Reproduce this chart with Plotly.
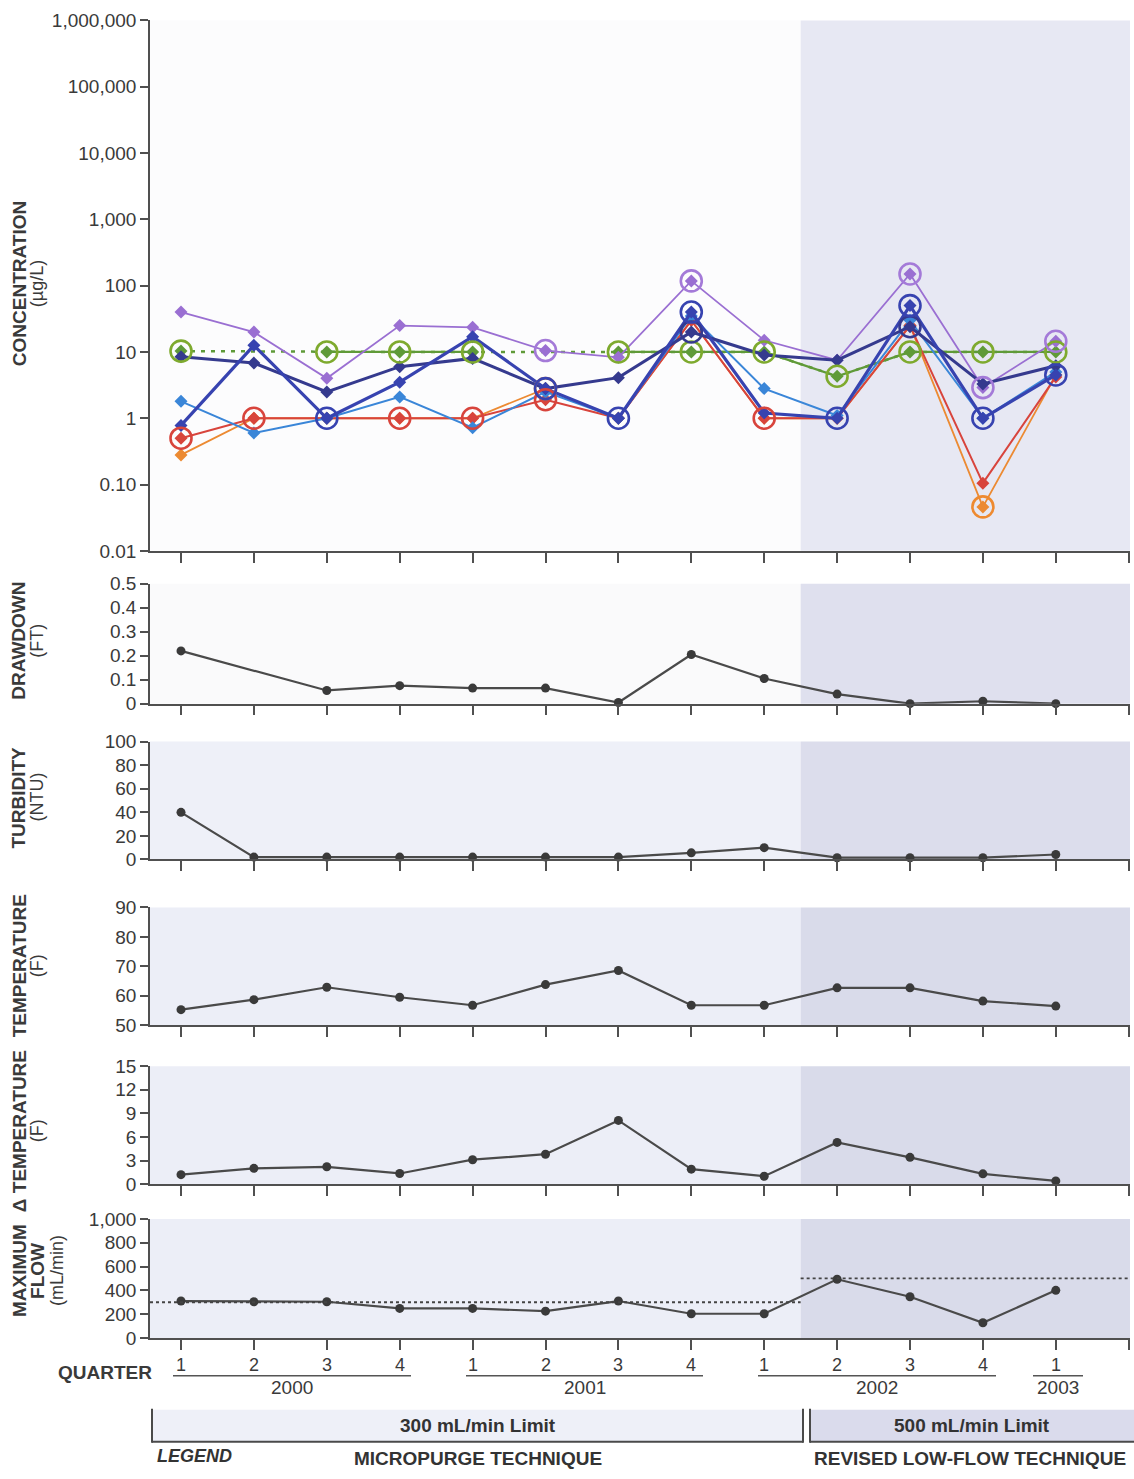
import plotly.graph_objects as go

W, H = 1134, 1479
# measured vertical mapping of the rendered page: shown_y ~= 0.987 * fig_y + 9.5
Y_SCALE, Y_SHIFT = 0.987, 9.5


def px(x):
    return min(max(x / W, 0.0), 1.0)


def py(y):
    fy = (y - Y_SHIFT) / Y_SCALE
    return min(max(1 - fy / H, 0.0), 1.0)


# ---------------- data ----------------
quarters = list(range(1, 14))
quarter_labels = ["1", "2", "3", "4", "1", "2", "3", "4", "1", "2", "3", "4", "1"]
years = ["2000", "2001", "2002", "2003"]

# concentration (ug/L), one list per constituent
conc_purple = [40, 20, 4.0, 25, 23.5, 10.5, 8.3, 118, 15, 7.5, 150, 2.9, 14.5]
conc_green = [10.3, None, 10, 10, 10, None, 10, 10, 10, 4.3, 10, 10, 10]
conc_red = [0.5, 1, 1, 1, 1, 1.9, 1, 30, 1, 1, 25, 0.105, 4.2]
conc_orange = [0.28, 1, 1, 1, 1, 2.8, 1, 30, 1, 1, 25, 0.046, 4.5]
conc_ltblue = [1.8, 0.6, 1, 2.1, 0.72, 2.5, 1, 35, 2.8, 1.1, 30, 1, 5]
conc_blue = [0.78, 12.6, 1, 3.5, 17, 2.8, 1, 40, 1.2, 1, 50, 1, 4.5]
conc_navy = [8.5, 6.8, 2.5, 6.0, 8.0, 2.8, 4.1, 20, 9, 7.5, 24, 3.3, 6.2]

# quarters whose result is circled (non-detect / reporting limit)
circ_purple = [6, 8, 11, 12, 13]
circ_green = [1, 3, 4, 5, 7, 8, 9, 10, 11, 12, 13]
circ_red = [1, 2, 4, 5, 6, 9]
circ_orange = [6, 12]
circ_blue = [3, 6, 7, 8, 10, 11, 12, 13]
circ_navy = [8, 11]

drawdown = [0.22, None, 0.055, 0.075, 0.065, 0.065, 0.005, 0.205, 0.105, 0.04, 0.0, 0.01, 0.0]
turbidity = [40, 2, 2, 2, 2, 2, 2, 5.6, 10, 1.5, 1.5, 1.5, 4.2]
temperature = [55.3, 58.7, 62.9, 59.5, 56.8, 63.8, 68.6, 56.8, 56.8, 62.7, 62.7, 58.2, 56.5]
delta_temp = [1.2, 2.0, 2.2, 1.35, 3.1, 3.8, 8.1, 1.9, 1.0, 5.3, 3.4, 1.3, 0.4]
max_flow = [310, 304, 304, 248, 248, 225, 310, 203, 203, 493, 346, 127, 400]
flow_limits = [300, 500]

conc_ticks = [0.01, 0.1, 1, 10, 100, 1000, 10000, 100000, 1000000]
conc_ticktext = ["0.01", "0.10", "1", "10", "100", "1,000", "10,000", "100,000", "1,000,000"]

# ---------------- layout constants ----------------
SPLIT = 9.5
FONT = "Liberation Sans, Arial, sans-serif"
AX = "#505050"
X_LEFT, X_Q1, X_STEP, X_RIGHT = 150, 181, 72.9, 1130
XR = [1 + (X_LEFT - X_Q1) / X_STEP, 1 + (X_RIGHT - X_Q1) / X_STEP]

fig = go.Figure()

series = [
    (conc_green, "#5f9a38", 2.2, circ_green, "#7eaa2e"),
    (conc_purple, "#9a6fd2", 1.8, circ_purple, "#a47ad8"),
    (conc_orange, "#ec8a32", 1.8, circ_orange, "#ee8a30"),
    (conc_red, "#d8443c", 2.0, circ_red, "#d8443c"),
    (conc_ltblue, "#3a86d8", 2.0, [], "#3a86d8"),
    (conc_navy, "#353a8e", 3.0, circ_navy, "#353a8e"),
    (conc_blue, "#3743b0", 3.2, circ_blue, "#3743b0"),
]

fig.add_trace(go.Scatter(x=quarters, y=conc_green, mode="lines", connectgaps=True,
                         line=dict(color="#5f9a38", width=2.5, dash="4px,6px"),
                         xaxis="x", yaxis="y", hoverinfo="skip", showlegend=False))

for vals, col, lw, _, _ in series:
    fig.add_trace(go.Scatter(x=quarters, y=vals, mode="lines+markers", connectgaps=False,
                             line=dict(color=col, width=lw),
                             marker=dict(symbol="diamond", size=10, color=col),
                             xaxis="x", yaxis="y", showlegend=False, cliponaxis=False))

for vals, col, lw, circ, ccol in series:
    if circ:
        fig.add_trace(go.Scatter(x=circ, y=[vals[q - 1] for q in circ], mode="markers",
                                 marker=dict(symbol="circle-open", size=21, color=ccol,
                                             line=dict(color=ccol, width=2.6)),
                                 xaxis="x", yaxis="y", showlegend=False, cliponaxis=False))

lower = [
    (drawdown, "x2", "y2"),
    (turbidity, "x3", "y3"),
    (temperature, "x4", "y4"),
    (delta_temp, "x5", "y5"),
    (max_flow, "x6", "y6"),
]
for vals, xa, ya in lower:
    fig.add_trace(go.Scatter(x=quarters, y=vals, mode="lines+markers", connectgaps=True,
                             line=dict(color="#4a4a4a", width=2.2),
                             marker=dict(symbol="circle", size=9, color="#3a3a3a"),
                             xaxis=xa, yaxis=ya, showlegend=False, cliponaxis=False))

# ---------------- axes ----------------
domains = [
    [py(551), py(20)],
    [py(704), py(584)],
    [py(860), py(742)],
    [py(1026), py(908)],
    [py(1185), py(1067)],
    [py(1339), py(1220)],
]
yconf = [
    dict(type="log", range=[-2, 6], tickvals=conc_ticks, ticktext=conc_ticktext),
    dict(range=[0, 0.5], tickvals=[0, 0.1, 0.2, 0.3, 0.4, 0.5],
         ticktext=["0", "0.1", "0.2", "0.3", "0.4", "0.5"]),
    dict(range=[0, 100], tickvals=[0, 20, 40, 60, 80, 100]),
    dict(range=[50, 90], tickvals=[50, 60, 70, 80, 90]),
    dict(range=[0, 15], tickvals=[0, 3, 6, 9, 12, 15]),
    dict(range=[0, 1000], tickvals=[0, 200, 400, 600, 800, 1000], tickformat=","),
]
layout = dict(width=W, height=H, margin=dict(l=0, r=0, t=0, b=0),
              paper_bgcolor="white", plot_bgcolor="rgba(0,0,0,0)",
              font=dict(family=FONT, color="#333333"), showlegend=False)
for i in range(6):
    xs = "xaxis" if i == 0 else f"xaxis{i+1}"
    ys = "yaxis" if i == 0 else f"yaxis{i+1}"
    yref = "y" if i == 0 else f"y{i+1}"
    xref = "x" if i == 0 else f"x{i+1}"
    layout[xs] = dict(domain=[px(X_LEFT), px(X_RIGHT)], range=XR, anchor=yref,
                      showgrid=False, zeroline=False, showline=True, linecolor=AX, linewidth=1.6,
                      ticks="outside", ticklen=10, tickwidth=1.5, tickcolor=AX,
                      tickvals=list(range(1, 15)), showticklabels=False, fixedrange=True)
    yc = dict(domain=domains[i], anchor=xref, showgrid=False, zeroline=False,
              showline=True, linecolor=AX, linewidth=1.6, ticks="outside", ticklen=8,
              tickwidth=1.5, tickcolor=AX, tickfont=dict(size=19, color="#3a3a3a", family=FONT),
              fixedrange=True)
    yc.update(yconf[i])
    layout[ys] = yc

# ---------------- background shading ----------------
shade_left = ["#fcfcfd", "#fafafb", "#eef0f8", "#eceef7", "#eceef7", "#eceef7"]
shade_right = ["#e7e8f3", "#dfe0ee", "#dcddec", "#d9dbea", "#d9dbea", "#d9dbea"]
shapes = []
for i in range(6):
    xref = "x" if i == 0 else f"x{i+1}"
    yd = "y domain" if i == 0 else f"y{i+1} domain"
    shapes.append(dict(type="rect", xref=xref, yref=yd, x0=XR[0], x1=SPLIT, y0=0, y1=1,
                       fillcolor=shade_left[i], line=dict(width=0), layer="below"))
    shapes.append(dict(type="rect", xref=xref, yref=yd, x0=SPLIT, x1=XR[1], y0=0, y1=1,
                       fillcolor=shade_right[i], line=dict(width=0), layer="below"))

shapes.append(dict(type="line", xref="x6", yref="y6", x0=XR[0], x1=SPLIT,
                   y0=flow_limits[0], y1=flow_limits[0],
                   line=dict(color="#444444", width=1.8, dash="3px,3px")))
shapes.append(dict(type="line", xref="x6", yref="y6", x0=SPLIT, x1=XR[1],
                   y0=flow_limits[1], y1=flow_limits[1],
                   line=dict(color="#444444", width=1.8, dash="3px,3px")))

year_lines = [(173, 411), (466, 703), (758, 996), (1033, 1083)]
for x0, x1 in year_lines:
    shapes.append(dict(type="line", xref="paper", yref="paper", x0=px(x0), x1=px(x1),
                       y0=py(1377), y1=py(1377), line=dict(color="#555555", width=1.5)))

shapes.append(dict(type="rect", xref="paper", yref="paper", x0=px(152), x1=px(803),
                   y0=py(1443), y1=py(1411), fillcolor="#eef0f8", line=dict(width=0), layer="below"))
shapes.append(dict(type="rect", xref="paper", yref="paper", x0=px(810), x1=px(1134),
                   y0=py(1443), y1=py(1411), fillcolor="#dadbec", line=dict(width=0), layer="below"))
for (x0, y0, x1, y1) in [(152, 1410, 152, 1444), (152, 1443, 803, 1443), (803, 1410, 803, 1444),
                         (810, 1410, 810, 1444), (810, 1443, 1134, 1443)]:
    shapes.append(dict(type="line", xref="paper", yref="paper", x0=px(x0), x1=px(x1),
                       y0=py(y0), y1=py(y1), line=dict(color="#4a4a4a", width=2)))
layout["shapes"] = shapes

# ---------------- annotations ----------------
ann = []


def title(lines, xs, yc):
    for (txt, bold), x in zip(lines, xs):
        ann.append(dict(text=f"<b>{txt}</b>" if bold else txt, xref="paper", yref="paper",
                        x=px(x), y=py(yc), textangle=-90, showarrow=False,
                        xanchor="center", yanchor="middle",
                        font=dict(size=19 if bold else 18, family=FONT, color="#3a3a3a")))


title([("CONCENTRATION", True), ("(µg/L)", False)], [19, 37], 284)
title([("DRAWDOWN", True), ("(FT)", False)], [19, 37], 641)
title([("TURBIDITY", True), ("(NTU)", False)], [19, 37], 798)
title([("TEMPERATURE", True), ("(F)", False)], [19, 37], 967)
title([("Δ TEMPERATURE", True), ("(F)", False)], [19, 37], 1132)
title([("MAXIMUM", True), ("FLOW", True), ("(mL/min)", False)], [20, 38, 57], 1272)

for q, lab in zip(quarters, quarter_labels):
    ann.append(dict(text=lab, xref="x6", yref="paper", x=q, y=py(1366), showarrow=False,
                    xanchor="center", yanchor="middle",
                    font=dict(size=18, family=FONT, color="#3a3a3a")))
ann.append(dict(text="<b>QUARTER</b>", xref="paper", yref="paper", x=px(105), y=py(1374),
                showarrow=False, xanchor="center", yanchor="middle",
                font=dict(size=19, family=FONT, color="#3a3a3a")))
for (x0, x1), yr in zip(year_lines, years):
    ann.append(dict(text=yr, xref="paper", yref="paper", x=px((x0 + x1) / 2), y=py(1389),
                    showarrow=False, xanchor="center", yanchor="middle",
                    font=dict(size=19, family=FONT, color="#3a3a3a")))

for txt, xc, yc in [("300 mL/min Limit", 478, 1427), ("500 mL/min Limit", 972, 1427),
                    ("MICROPURGE TECHNIQUE", 478, 1460), ("REVISED LOW-FLOW TECHNIQUE", 970, 1460)]:
    ann.append(dict(text=f"<b>{txt}</b>", xref="paper", yref="paper", x=px(xc), y=py(yc),
                    showarrow=False, xanchor="center", yanchor="middle",
                    font=dict(size=19, family=FONT, color="#333333")))
ann.append(dict(text="<b><i>LEGEND</i></b>", xref="paper", yref="paper", x=px(155), y=0,
                showarrow=False, xanchor="left", yanchor="bottom",
                font=dict(size=18, family=FONT, color="#333333")))
layout["annotations"] = ann

fig.update_layout(**layout)
fig.write_html("out.html")
